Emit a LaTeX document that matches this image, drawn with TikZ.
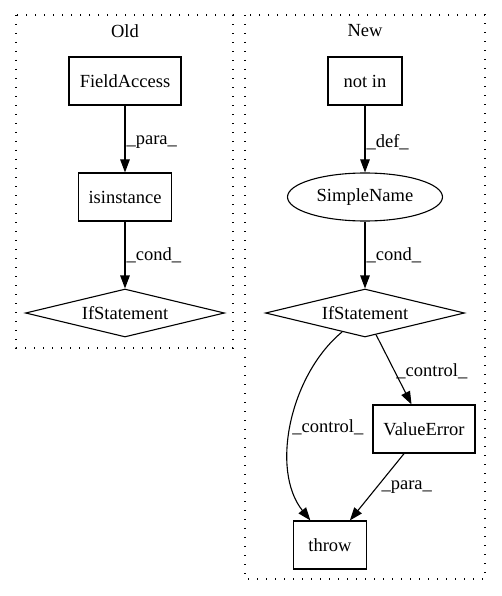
\documentclass[tikz,border=0pt]{standalone}
\usepackage{fontspec}
\setmainfont{Liberation Serif}
\usetikzlibrary{shapes.geometric,arrows.meta}
\tikzset{
  box/.style={draw, line width=1.1pt, minimum height=48pt, inner sep=0pt, font=\fontsize{18.5}{22}\selectfont},
  cond/.style={draw, diamond, line width=1.1pt, aspect=4.15, minimum width=199pt, minimum height=48pt, inner sep=0pt, font=\fontsize{18.5}{22}\selectfont},
  oval/.style={draw, ellipse, line width=1.1pt, minimum width=155pt, minimum height=48pt, inner sep=0pt, font=\fontsize{18.5}{22}\selectfont},
  flow/.style={line width=1.1pt, -{Triangle[length=13pt,width=9.5pt]}},
  lbl/.style={inner sep=1pt, anchor=west, font=\fontsize{18.5}{22}\selectfont},
  cluster/.style={line width=1.1pt, dash pattern=on 1.3pt off 7.7pt}
}
\begin{document}
\begin{tikzpicture}[x=1pt,y=-1pt]
\useasboundingbox (0,0) rectangle (501,596);

\draw[cluster] (16,15) rectangle (233,348);
\node[font=\fontsize{18.5}{22}\selectfont] (oldTitle) at (125,31) {Old};
\node[box, minimum width=112pt] (fieldAccess) at (125,81) {FieldAccess};
\node[box, minimum width=93pt] (isInstance) at (125,197) {isinstance};
\node[cond] (ifOld) at (125,313) {IfStatement};
\draw[flow] (fieldAccess) -- node[lbl, pos=0.55] (lblPara) {\_para\_} (isInstance);
\draw[flow] (isInstance) -- node[lbl, pos=0.5] (lblCond) {\_cond\_} (ifOld);

\draw[cluster] (245,15) rectangle (485,579);
\node[font=\fontsize{18.5}{22}\selectfont] (newTitle) at (365,31) {New};
\node[box, minimum width=74pt] (notIn) at (365,81) {not in};
\node[oval] (simpleName) at (365,197) {SimpleName};
\node[cond] (ifNew) at (365,313) {IfStatement};
\node[box, minimum width=102pt] (valueError) at (424,429) {ValueError};
\node[box, minimum width=73pt] (throwNode) at (330,545) {throw};
\draw[flow] (notIn) -- node[lbl, pos=0.55] (lblDef) {\_def\_} (simpleName);
\draw[flow] (simpleName) -- node[lbl, pos=0.5] (lblCondNew) {\_cond\_} (ifNew);
\draw[flow] (ifNew) -- node[lbl, pos=0.53] (lblCtrlA) {\_control\_} (valueError);
\draw[flow] (ifNew) .. controls (290,375) and (270,470) .. node[lbl, pos=0.52] (lblCtrlB) {\_control\_} (throwNode);
\draw[flow] (valueError) -- node[lbl, pos=0.5, inner sep=4pt] (lblParaNew) {\_para\_} (throwNode);
\end{tikzpicture}
\end{document}
